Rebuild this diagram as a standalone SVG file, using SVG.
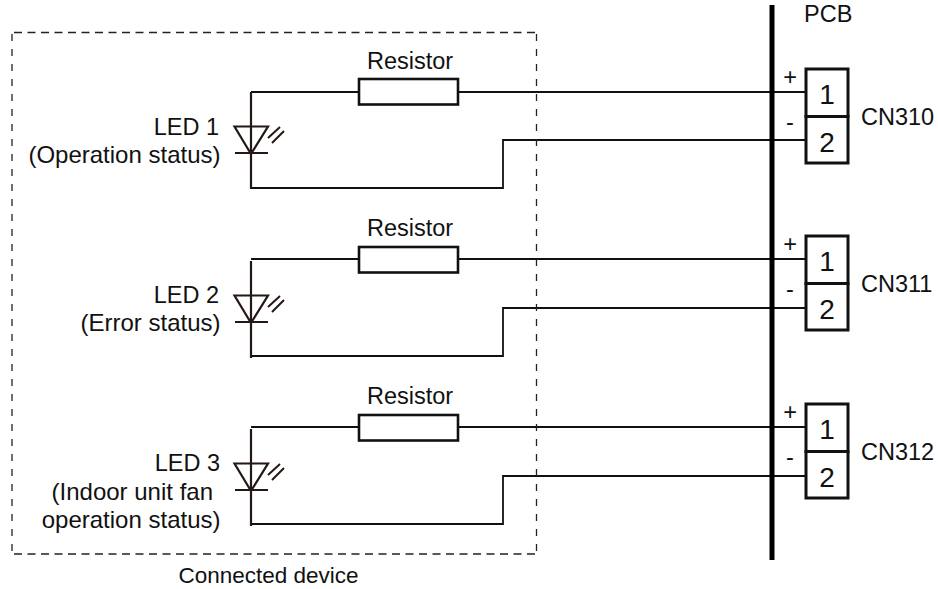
<svg xmlns="http://www.w3.org/2000/svg" width="938" height="589" viewBox="0 0 938 589">
<style>
text{font-family:"Liberation Sans",Arial,sans-serif;font-size:23.5px;fill:#111}
.m{text-anchor:middle}.e{text-anchor:end}
.s{font-size:24px}
.w{fill:none;stroke:#111;stroke-width:1.8}
.sym{fill:none;stroke:#231815;stroke-width:2.200}
.box{fill:#fff;stroke:#111;stroke-width:2.6}
.pin{fill:#fff;stroke:#111;stroke-width:3}
.num{font-size:28px}
.ray{fill:none;stroke:#231815;stroke-width:2}
</style>
<defs>
<g id="led">
<path class="sym" d="M251 92V189M234.500 126.500H268L251 154ZM235 153H268"/>
<path class="ray" d="M268 138L280 127M272 143L284 131"/>
</g>
<g id="conn">
<rect class="pin" x="806" y="69" width="42" height="47.500"/>
<rect class="pin" x="806" y="116.500" width="42" height="46.500"/>
<text class="m num" x="827" y="104">1</text>
<text class="m num" x="827" y="152">2</text>
</g>
</defs>
<g id="connectors">
<path class="w" d="M251 92H359M458 92H806"/>
<path class="w" d="M251 188H503V140H806"/>
<path class="w" d="M251 259H359M458 259H806"/>
<path class="w" d="M251 356H503V308H806"/>
<path class="w" d="M251 427H359M458 427H806"/>
<path class="w" d="M251 524H503V476H806"/>
</g>
<g id="connected-device">
<path d="M14 32.500H536.500M14 554H536.500" fill="none" stroke="#222" stroke-width="1.3" stroke-dasharray="8 5.500"/>
<path d="M12 34V554M536.500 34V554" fill="none" stroke="#222" stroke-width="1.3" stroke-dasharray="7 8"/>
<text class="m" x="268.500" y="583" style="font-size:22.500px">Connected device</text>
</g>
<g id="pcb">
<rect x="769.500" y="5" width="5" height="555" fill="#000"/>
<text x="804" y="22">PCB</text>
</g>
<g id="r1"><rect class="box" x="359" y="79" width="99" height="25.500"/><text class="m" x="410" y="68.500">Resistor</text></g>
<g id="r2"><rect class="box" x="359" y="247" width="99" height="25.500"/><text class="m" x="410" y="236">Resistor</text></g>
<g id="r3"><rect class="box" x="359" y="415" width="99" height="25.500"/><text class="m" x="410" y="404">Resistor</text></g>
<g id="led1"><use href="#led"/>
<text class="e" x="219" y="135">LED 1</text><text class="e s" x="220.500" y="163">(Operation status)</text></g>
<g id="led2"><use href="#led" y="169"/>
<text class="e" x="219" y="303">LED 2</text><text class="e s" x="220.500" y="331">(Error status)</text></g>
<g id="led3"><use href="#led" y="337"/>
<text class="e" x="220" y="471">LED 3</text><text class="e s" x="213" y="500">(Indoor unit fan</text><text class="e s" x="220.500" y="528">operation status)</text></g>
<g id="cn310"><use href="#conn"/><text x="861" y="125">CN310</text><text class="m" x="790" y="85">+</text><text class="m" x="790" y="130">-</text></g>
<g id="cn311"><use href="#conn" y="167"/><text x="861" y="292">CN311</text><text class="m" x="790" y="252">+</text><text class="m" x="790" y="297">-</text></g>
<g id="cn312"><use href="#conn" y="335"/><text x="861" y="460">CN312</text><text class="m" x="790" y="420">+</text><text class="m" x="790" y="465">-</text></g>
</svg>
